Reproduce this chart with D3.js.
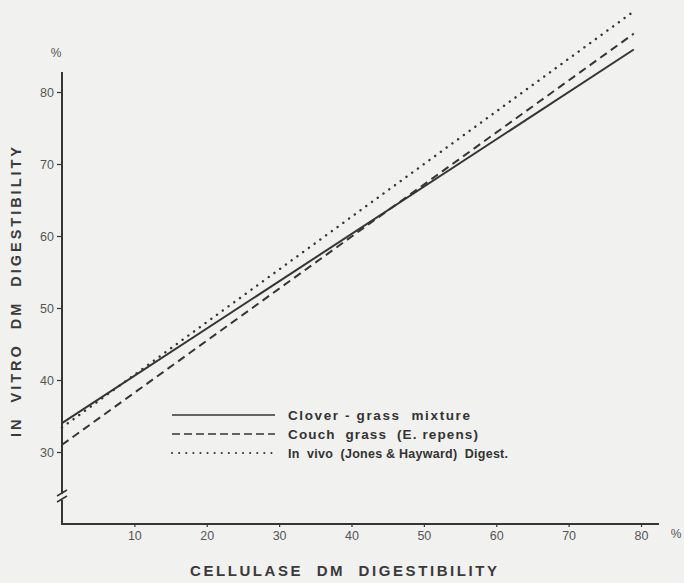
<!DOCTYPE html>
<html>
<head>
<meta charset="utf-8">
<script src="https://cdn.jsdelivr.net/npm/d3@7"></script>
<style>
  html, body { margin: 0; padding: 0; background: #f1f1f0; }
  svg { display: block; }
</style>
</head>
<body>
<div id="chart"></div>
<script>
// ---- data ----
const xEnds = [0, 79];                 // cellulase DM digestibility range of the lines
const cloverGrass = [34.0, 85.9];      // in vitro DM digestibility at xEnds
const couchGrass  = [31.0, 88.1];
const inVivo      = [33.4, 91.2];
const xTicks = [10, 20, 30, 40, 50, 60, 70, 80];
const yTicks = [30, 40, 50, 60, 70, 80];
const seriesNames = ["Clover - grass  mixture", "Couch  grass  (E. repens)", "In  vivo  (Jones & Hayward)  Digest."];
const xTitle = "CELLULASE  DM  DIGESTIBILITY";
const yTitle = "IN  VITRO  DM  DIGESTIBILITY";

const W = 684, H = 583;
const ink = "#353535", grey = "#555";

const svg = d3.select("#chart").append("svg")
  .attr("width", W).attr("height", H);
svg.append("rect").attr("width", W).attr("height", H).attr("fill", "#f1f1f0");

const x = d3.scaleLinear().domain([0, 80]).range([62, 641]);
const y = d3.scaleLinear().domain([30, 80]).range([452, 92]);
const axisBottomY = 524, axisTopY = 72, axisRightX = 659;

// ---- axes lines ----
const g = svg.append("g");
g.append("line").attr("x1", x(0)).attr("x2", x(0)).attr("y1", axisTopY).attr("y2", 494)
  .attr("stroke", ink).attr("stroke-width", 2);
g.append("line").attr("x1", x(0)).attr("x2", x(0)).attr("y1", 500).attr("y2", axisBottomY + 1)
  .attr("stroke", ink).attr("stroke-width", 2);
[[57, 496, 67, 490], [57, 502, 67, 496]].forEach(d => {
  g.append("line").attr("x1", d[0]).attr("y1", d[1]).attr("x2", d[2]).attr("y2", d[3])
    .attr("stroke", ink).attr("stroke-width", 1.5);
});
g.append("line").attr("x1", x(0) - 1).attr("x2", axisRightX).attr("y1", axisBottomY).attr("y2", axisBottomY)
  .attr("stroke", ink).attr("stroke-width", 2);

// ---- ticks via d3 axes ----
const yAxis = d3.axisLeft(y).tickValues(yTicks).tickSize(5).tickPadding(3).tickSizeOuter(0);
const yg = svg.append("g").attr("transform", `translate(${x(0)},0)`).call(yAxis);
yg.select(".domain").remove();
yg.selectAll("line").attr("stroke", ink).attr("stroke-width", 1.2);
yg.selectAll("text").attr("fill", grey).attr("font-family", "Liberation Sans, Arial, sans-serif")
  .attr("font-size", 12.5);

const xAxis = d3.axisBottom(x).tickValues(xTicks).tickSize(3).tickPadding(4).tickSizeOuter(0);
const xg = svg.append("g").attr("transform", `translate(0,${axisBottomY})`).call(xAxis);
xg.select(".domain").remove();
xg.selectAll("line").attr("stroke", ink).attr("stroke-width", 1.2);
xg.selectAll("text").attr("fill", grey).attr("font-family", "Liberation Sans, Arial, sans-serif")
  .attr("font-size", 12.5);

// percent signs
svg.append("text").attr("x", 56).attr("y", 57).attr("text-anchor", "middle")
  .attr("font-family", "Liberation Sans, Arial, sans-serif").attr("font-size", 12).attr("fill", grey).text("%");
svg.append("text").attr("x", 676).attr("y", 538).attr("text-anchor", "middle")
  .attr("font-family", "Liberation Sans, Arial, sans-serif").attr("font-size", 12).attr("fill", grey).text("%");

// ---- axis titles ----
svg.append("text")
  .attr("x", 190).attr("y", 576)
  .attr("textLength", 307).attr("lengthAdjust", "spacing")
  .attr("font-family", "Liberation Sans, Arial, sans-serif").attr("font-weight", "bold")
  .attr("font-size", 15).attr("fill", "#3a3a3a")
  .style("white-space", "pre").text(xTitle);

svg.append("text")
  .attr("transform", "translate(21,437) rotate(-90)")
  .attr("x", 0).attr("y", 0)
  .attr("textLength", 290).attr("lengthAdjust", "spacing")
  .attr("font-family", "Liberation Sans, Arial, sans-serif").attr("font-weight", "bold")
  .attr("font-size", 14.5).attr("fill", "#3a3a3a")
  .style("white-space", "pre").text(yTitle);

// ---- series lines ----
const series = [
  { vals: cloverGrass, dash: null, width: 2, cap: "butt" },
  { vals: couchGrass, dash: "8,5", width: 2, cap: "butt" },
  { vals: inVivo, dash: "0.1,7", width: 2.4, cap: "round" }
];
const line = d3.line().x(d => x(d[0])).y(d => y(d[1]));
series.forEach(s => {
  const pts = xEnds.map((xv, i) => [xv, s.vals[i]]);
  svg.append("path").attr("d", line(pts)).attr("fill", "none")
    .attr("stroke", ink).attr("stroke-width", s.width)
    .attr("stroke-linecap", s.cap)
    .attr("stroke-dasharray", s.dash);
});

// ---- legend ----
const legY = [415, 434, 453];
const legFont = [13.5, 13.5, 12.5];
const legTextLen = [182, 190, 220];
series.forEach((s, i) => {
  svg.append("line").attr("x1", 172).attr("x2", 275).attr("y1", legY[i]).attr("y2", legY[i])
    .attr("stroke", ink).attr("stroke-width", i === 2 ? 2 : 1.6)
    .attr("stroke-linecap", s.cap)
    .attr("stroke-dasharray", i === 1 ? "8,4" : (i === 2 ? "0.1,7" : null));
  svg.append("text").attr("x", 288).attr("y", legY[i] + 5)
    .attr("textLength", legTextLen[i]).attr("lengthAdjust", "spacing")
    .attr("font-family", "Liberation Sans, Arial, sans-serif").attr("font-weight", "bold")
    .attr("font-size", legFont[i]).attr("fill", "#333")
    .style("white-space", "pre").text(seriesNames[i]);
});
</script>
</body>
</html>
